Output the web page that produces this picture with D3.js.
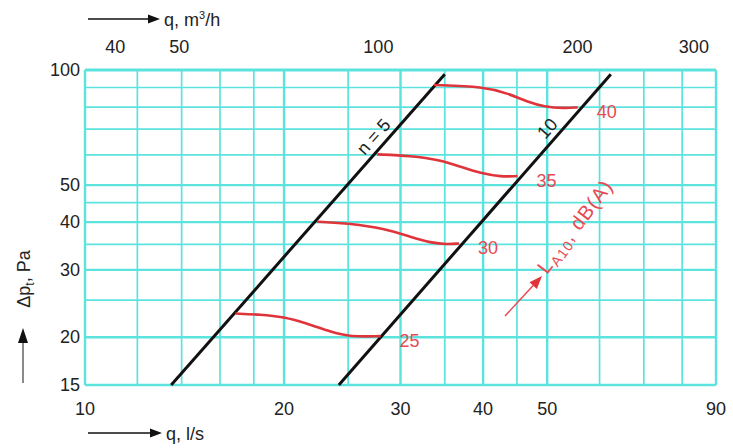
<!DOCTYPE html>
<html><head><meta charset="utf-8">
<script src="https://cdn.jsdelivr.net/npm/d3@7"></script>
<style>
html,body{margin:0;padding:0;background:#fff;}
svg{display:block;font-family:"Liberation Sans Narrow","Liberation Sans",Arial,sans-serif;}
</style></head><body>
<svg id="chart" width="733" height="448"></svg>
<script>
// Flow rate, l/s (bottom axis) and m³/h (top axis)
const flowGrid = [10,12,14,16,18,20,25,30,35,40,45,50,60,70,80,90];
const flowTicks = [10,20,30,40,50,90];
const flowM3hTicks = [40,50,100,200,300];
// Total pressure drop, Pa
const pressureGrid = [15,20,25,30,35,40,45,50,60,70,80,90,100];
const pressureTicks = [15,20,30,40,50,100];

// Characteristic lines for n = 5 and n = 10
const lineN5 = [{q:13.5, dp:15},{q:35.0, dp:97.5}];
const lineN10 = [{q:24.2, dp:15},{q:62.4, dp:97.5}];

// Sound power level curves L_A10, dB(A)
const soundLevels = [25,30,35,40];
const curve25 = [{q:16.88,dp:23.07},{q:18.41,dp:22.93},{q:19.97,dp:22.61},{q:21.68,dp:21.73},{q:23.5,dp:20.65},{q:25.2,dp:20.04},{q:27.99,dp:20.13}];
const curve30 = [{q:22.44,dp:40.09},{q:25.2,dp:39.7},{q:28.31,dp:38.52},{q:31.08,dp:36.61},{q:33.32,dp:35.31},{q:35.32,dp:34.97},{q:36.78,dp:35.18}];
const curve35 = [{q:27.67,dp:60.17},{q:31.08,dp:59.67},{q:34.51,dp:58.13},{q:37.0,dp:55.84},{q:39.68,dp:53.66},{q:42.54,dp:52.57},{q:45.1,dp:52.79}];
const curve40 = [{q:33.71,dp:91.36},{q:40.13,dp:90.43},{q:43.54,dp:86.9},{q:46.68,dp:82.6},{q:49.48,dp:80.14},{q:53.04,dp:79.39},{q:55.59,dp:79.85}];
const soundCurves = [curve25, curve30, curve35, curve40];

const svg = d3.select("#chart");
const x = d3.scaleLog().domain([10, 90]).range([85, 716]);
const y = d3.scaleLog().domain([15, 100]).range([385, 70]);

const gridColor = "#5ce3dd";
const textColor = "#222";
const red = "#e0343b";
const redText = "#e64a52";

// grid
const grid = svg.append("g");
grid.selectAll("line.v").data(flowGrid).join("line")
  .attr("x1", d => x(d)).attr("x2", d => x(d))
  .attr("y1", y(100)).attr("y2", y(15))
  .attr("stroke", gridColor)
  .attr("stroke-width", d => flowTicks.includes(d) ? 2.4 : 1.7);
grid.selectAll("line.h").data(pressureGrid).join("line")
  .attr("x1", x(10)).attr("x2", x(90))
  .attr("y1", d => y(d)).attr("y2", d => y(d))
  .attr("stroke", gridColor)
  .attr("stroke-width", d => d === 100 ? 3.2 : (pressureTicks.includes(d) ? 2.4 : 1.7));

// bottom axis labels
svg.append("g").selectAll("text").data(flowTicks).join("text")
  .attr("x", d => x(d)).attr("y", 415)
  .attr("text-anchor", "middle").attr("font-size", 18).attr("fill", textColor)
  .text(d => d);

// top axis labels (m³/h = 3.6 × l/s)
svg.append("g").selectAll("text").data(flowM3hTicks).join("text")
  .attr("x", d => x(d / 3.6)).attr("y", 53)
  .attr("text-anchor", "middle").attr("font-size", 18).attr("fill", textColor)
  .text(d => d);

// left axis labels
svg.append("g").selectAll("text").data(pressureTicks).join("text")
  .attr("x", 80).attr("y", d => y(d) + 6)
  .attr("text-anchor", "end").attr("font-size", 18).attr("fill", textColor)
  .text(d => d);

// arrow helper
function arrow(x1, y1, x2, y2, color, tailColor, width, headLen, headW) {
  const a = Math.atan2(y2 - y1, x2 - x1);
  const bx = x2 - headLen * Math.cos(a), by = y2 - headLen * Math.sin(a);
  svg.append("line").attr("x1", x1).attr("y1", y1).attr("x2", bx).attr("y2", by)
    .attr("stroke", tailColor).attr("stroke-width", width);
  const px = -Math.sin(a) * headW / 2, py = Math.cos(a) * headW / 2;
  svg.append("path")
    .attr("d", `M${x2},${y2}L${bx + px},${by + py}L${bx - px},${by - py}Z`)
    .attr("fill", color);
}

// axis titles
arrow(88, 19, 160, 19, "#111", "#111", 1.5, 12, 9);
const topTitle = svg.append("text").attr("x", 164).attr("y", 26)
  .attr("font-size", 18).attr("fill", textColor);
topTitle.append("tspan").text("q, m");
topTitle.append("tspan").attr("font-size", 11).attr("dy", -7).text("3");
topTitle.append("tspan").attr("dy", 7).text("/h");

arrow(88, 433, 162, 433, "#111", "#111", 1.5, 12, 9);
svg.append("text").attr("x", 166).attr("y", 440)
  .attr("font-size", 18).attr("fill", textColor).text("q, l/s");

arrow(23, 383, 23, 328, "#111", "#8a8a8a", 2, 15, 10);
const leftTitle = svg.append("text")
  .attr("transform", "translate(30,279) rotate(-90)")
  .attr("text-anchor", "middle").attr("font-size", 18).attr("fill", textColor);
leftTitle.append("tspan").text("Δp");
leftTitle.append("tspan").attr("font-size", 12).attr("dy", 4).text("t");
leftTitle.append("tspan").attr("dy", -4).text(", Pa");

// characteristic lines
const lineGen = d3.line().x(d => x(d.q)).y(d => y(d.dp));
[lineN5, lineN10].forEach(l => {
  svg.append("path").attr("d", lineGen(l))
    .attr("fill", "none").attr("stroke", "#111").attr("stroke-width", 3);
});

function labelOnLine(l, t, txt, offset) {
  const x1 = x(l[0].q), y1 = y(l[0].dp), x2 = x(l[1].q), y2 = y(l[1].dp);
  const px = x1 + t * (x2 - x1), py = y1 + t * (y2 - y1);
  const ang = Math.atan2(y2 - y1, x2 - x1) * 180 / Math.PI;
  svg.append("text")
    .attr("transform", `translate(${px},${py}) rotate(${ang})`)
    .attr("y", offset).attr("text-anchor", "middle")
    .attr("font-size", 18).attr("fill", textColor).text(txt);
}
labelOnLine(lineN5, 0.773, "n = 5", -6);
labelOnLine(lineN10, 0.80, "10", -6);

// sound level curves
const curveGen = d3.line().x(d => x(d.q)).y(d => y(d.dp)).curve(d3.curveBasis);
soundCurves.forEach((c, i) => {
  svg.append("path").attr("d", curveGen(c))
    .attr("fill", "none").attr("stroke", red).attr("stroke-width", 2.6);
  const end = c[c.length - 1];
  svg.append("text")
    .attr("x", x(end.q) + 19).attr("y", y(end.dp) + 11)
    .attr("font-size", 18).attr("fill", redText).text(soundLevels[i]);
});

// L_A10 label with arrow
arrow(505, 316, 542, 276, red, redText, 1.5, 13, 10);
const laLabel = svg.append("text")
  .attr("transform", "translate(547,275) rotate(-53)")
  .attr("font-size", 20).attr("letter-spacing", 1.2).attr("fill", redText);
laLabel.append("tspan").text("L");
laLabel.append("tspan").attr("font-size", 14).attr("dy", 4).text("A10");
laLabel.append("tspan").attr("dy", -4).text(", dB(A)");
</script>
</body></html>
